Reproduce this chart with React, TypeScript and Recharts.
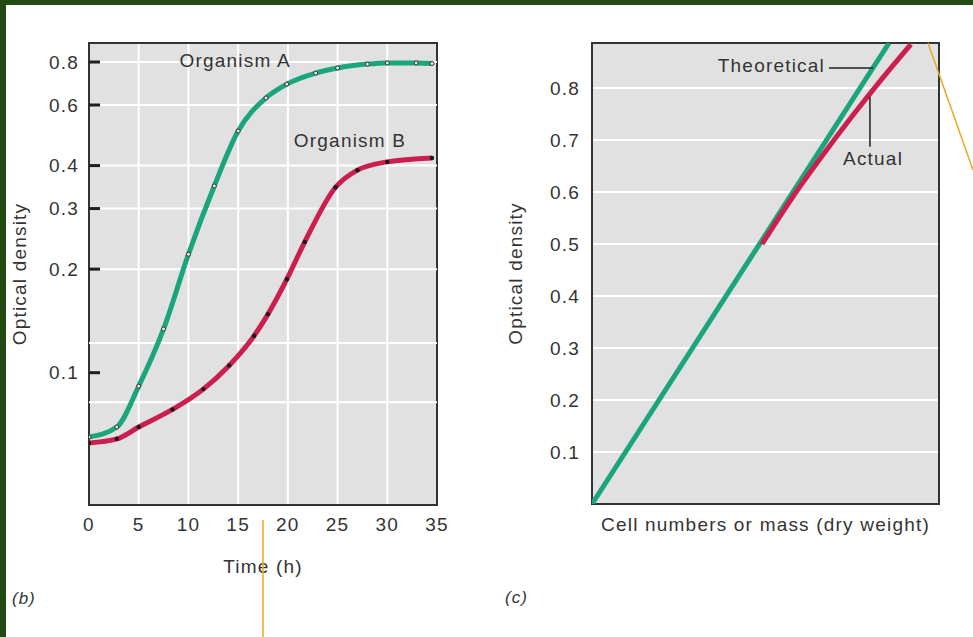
import {
  LineChart,
  Line,
  XAxis,
  YAxis,
  CartesianGrid,
  ReferenceLine,
  ReferenceArea,
  ReferenceDot,
} from 'recharts'

const FONT = '"Liberation Sans", Arial, Helvetica, sans-serif'
const TEXT = '#343434'
const GREEN = '#1ba57c'
const RED = '#cc1f4f'
const PANEL = '#e1e1e1'
const FRAME = '#333333'

// (b) growth curves, optical density on a log axis
const timeA = [0, 2.8, 5, 7.5, 10, 12.6, 15, 17.8, 19.9, 22.8, 25, 28, 30, 32.9, 34.5]
const odA = [0.065, 0.0695, 0.0914, 0.134, 0.221, 0.349, 0.504, 0.629, 0.69, 0.743, 0.769, 0.789, 0.795, 0.795, 0.792]
const timeB = [0, 2.8, 5, 8.4, 11.5, 14.1, 16.6, 18, 19.9, 21.7, 24.8, 27, 30, 34.5]
const odB = [0.0625, 0.0642, 0.0695, 0.0782, 0.0896, 0.105, 0.128, 0.148, 0.187, 0.24, 0.346, 0.388, 0.41, 0.421]
const timeTicks = [0, 5, 10, 15, 20, 25, 30, 35]
const logTicks = [0.1, 0.2, 0.3, 0.4, 0.6, 0.8]
const logGrid = [0.8, 0.6, 0.4, 0.3, 0.2, 0.122, 0.082]
const logDomain = [0.04125, 0.9086]

// (c) optical density vs cell mass
const massTheory = [0, 0.856]
const odTheory = [0, 0.8865]
const massActual = [0.49, 0.576, 0.663, 0.749, 0.836, 0.919]
const odActual = [0.5, 0.588, 0.669, 0.745, 0.818, 0.884]
const linTicks = [0.1, 0.2, 0.3, 0.4, 0.5, 0.6, 0.7, 0.8]
const linDomain = [0, 0.8865]

const seriesA = timeA.map((t, i) => ({ t, od: odA[i] }))
const seriesB = timeB.map((t, i) => ({ t, od: odB[i] }))
const theory = massTheory.map((m, i) => ({ m, od: odTheory[i] }))
const actual = massActual.map((m, i) => ({ m, od: odActual[i] }))

function LogTick({ x, y, payload }: any) {
  return (
    <g>
      <text x={x + 1} y={y} dy="0.355em" textAnchor="end" fontSize={19} fill={TEXT}>
        {payload.value}
      </text>
      <line x1={x + 11} x2={x + 22} y1={y} y2={y} stroke="#1e1e1e" strokeWidth={3} />
    </g>
  )
}

const labelStyle = { fill: TEXT, fontSize: 19 }

export default function App() {
  return (
    <div
      style={{
        position: 'relative',
        width: 973,
        height: 637,
        background: '#244a14',
        fontFamily: FONT,
        letterSpacing: '1.2px',
        overflow: 'hidden',
      }}
    >
      <style>{'body{margin:0}'}</style>
      <div style={{ position: 'absolute', left: 6, top: 5, right: 0, bottom: 0, background: '#fff' }} />

      {/* (b) */}
      <div style={{ position: 'absolute', left: 0, top: 0 }}>
        <LineChart width={480} height={637} margin={{ top: 43, right: 43, bottom: 0, left: 0 }}>
          <CartesianGrid
            horizontal={false}
            stroke="#fff"
            strokeWidth={2}
            fill={PANEL}
            fillOpacity={1}
          />
          {logGrid.map((v) => (
            <ReferenceLine key={v} y={v} stroke="#fff" strokeWidth={2} />
          ))}
          <XAxis
            type="number"
            dataKey="t"
            domain={[0, 35]}
            ticks={timeTicks}
            allowDataOverflow
            height={132}
            tickLine={false}
            axisLine={false}
            tickSize={0}
            tickMargin={13}
            tick={{ fill: TEXT, fontSize: 19 }}
            label={{ value: 'Time (h)', position: 'insideTop', offset: 55, ...labelStyle }}
          />
          <YAxis
            scale="log"
            domain={logDomain}
            ticks={logTicks}
            allowDataOverflow
            width={89}
            tickLine={false}
            axisLine={false}
            tickSize={0}
            tickMargin={11}
            tick={<LogTick />}
            label={{
              value: 'Optical density',
              angle: -90,
              position: 'insideLeft',
              offset: 19,
              style: { textAnchor: 'middle' },
              ...labelStyle,
            }}
          />
          <ReferenceArea
            x1={0}
            x2={35}
            y1={logDomain[0]}
            y2={logDomain[1]}
            fill="none"
            stroke={FRAME}
            strokeWidth={2}
          />
          <Line
            data={seriesA}
            dataKey="od"
            type="monotone"
            stroke={GREEN}
            strokeWidth={5}
            dot={{ r: 2, fill: '#e8e8e8', stroke: '#333', strokeWidth: 1 }}
            isAnimationActive={false}
          />
          <Line
            data={seriesB}
            dataKey="od"
            type="monotone"
            stroke={RED}
            strokeWidth={5}
            dot={{ r: 2.2, fill: '#1a1a1a', stroke: 'none' }}
            isAnimationActive={false}
          />
          <ReferenceDot x={14.7} y={0.811} r={0} label={{ value: 'Organism A', position: 'center', ...labelStyle }} />
          <ReferenceDot x={26.25} y={0.4745} r={0} label={{ value: 'Organism B', position: 'center', ...labelStyle }} />
        </LineChart>
      </div>

      {/* (c) */}
      <div style={{ position: 'absolute', left: 480, top: 0 }}>
        <LineChart width={493} height={637} margin={{ top: 43, right: 34, bottom: 0, left: 0 }}>
          <CartesianGrid
            vertical={false}
            stroke="#fff"
            strokeWidth={2}
            fill={PANEL}
            fillOpacity={1}
          />
          <XAxis
            type="number"
            dataKey="m"
            domain={[0, 1]}
            allowDataOverflow
            height={133}
            tick={false}
            tickLine={false}
            axisLine={false}
            label={{ value: 'Cell numbers or mass (dry weight)', position: 'insideTop', offset: 14, ...labelStyle }}
          />
          <YAxis
            domain={linDomain}
            ticks={linTicks}
            allowDataOverflow
            width={112}
            tickLine={false}
            axisLine={false}
            tickSize={0}
            tickMargin={12}
            tick={{ fill: TEXT, fontSize: 19 }}
            label={{
              value: 'Optical density',
              angle: -90,
              position: 'insideLeft',
              offset: 35,
              style: { textAnchor: 'middle' },
              ...labelStyle,
            }}
          />
          <ReferenceArea
            x1={0}
            x2={1}
            y1={linDomain[0]}
            y2={linDomain[1]}
            fill="none"
            stroke={FRAME}
            strokeWidth={2}
          />
          <Line
            data={theory}
            dataKey="od"
            type="linear"
            stroke={GREEN}
            strokeWidth={5}
            dot={false}
            isAnimationActive={false}
          />
          <Line
            data={actual}
            dataKey="od"
            type="monotone"
            stroke={RED}
            strokeWidth={5}
            dot={false}
            isAnimationActive={false}
          />
          <ReferenceLine
            segment={[{ x: 0.683, y: 0.8385 }, { x: 0.81, y: 0.8385 }]}
            stroke="#222"
            strokeWidth={1.5}
          />
          <ReferenceLine
            segment={[{ x: 0.801, y: 0.783 }, { x: 0.801, y: 0.687 }]}
            stroke="#222"
            strokeWidth={1.5}
          />
          <ReferenceDot
            x={0.683}
            y={0.8442}
            r={0}
            label={{ value: 'Theoretical', position: 'left', offset: 4, ...labelStyle }}
          />
          <ReferenceDot x={0.81} y={0.665} r={0} label={{ value: 'Actual', position: 'center', ...labelStyle }} />
        </LineChart>
      </div>

      <span style={{ position: 'absolute', left: 12, top: 589, fontSize: 17, fontStyle: 'italic', color: TEXT, letterSpacing: '1px' }}>
        (b)
      </span>
      <span style={{ position: 'absolute', left: 505, top: 588, fontSize: 17, fontStyle: 'italic', color: TEXT, letterSpacing: '1px' }}>
        (c)
      </span>

      {/* highlighter marks on the page */}
      <svg width={973} height={637} style={{ position: 'absolute', left: 0, top: 0, pointerEvents: 'none' }}>
        <line x1={263} y1={520} x2={263} y2={637} stroke="#e8a820" strokeWidth={1.5} />
        <line x1={928} y1={43} x2={973} y2={170} stroke="#e8a820" strokeWidth={1.5} />
      </svg>
    </div>
  )
}
